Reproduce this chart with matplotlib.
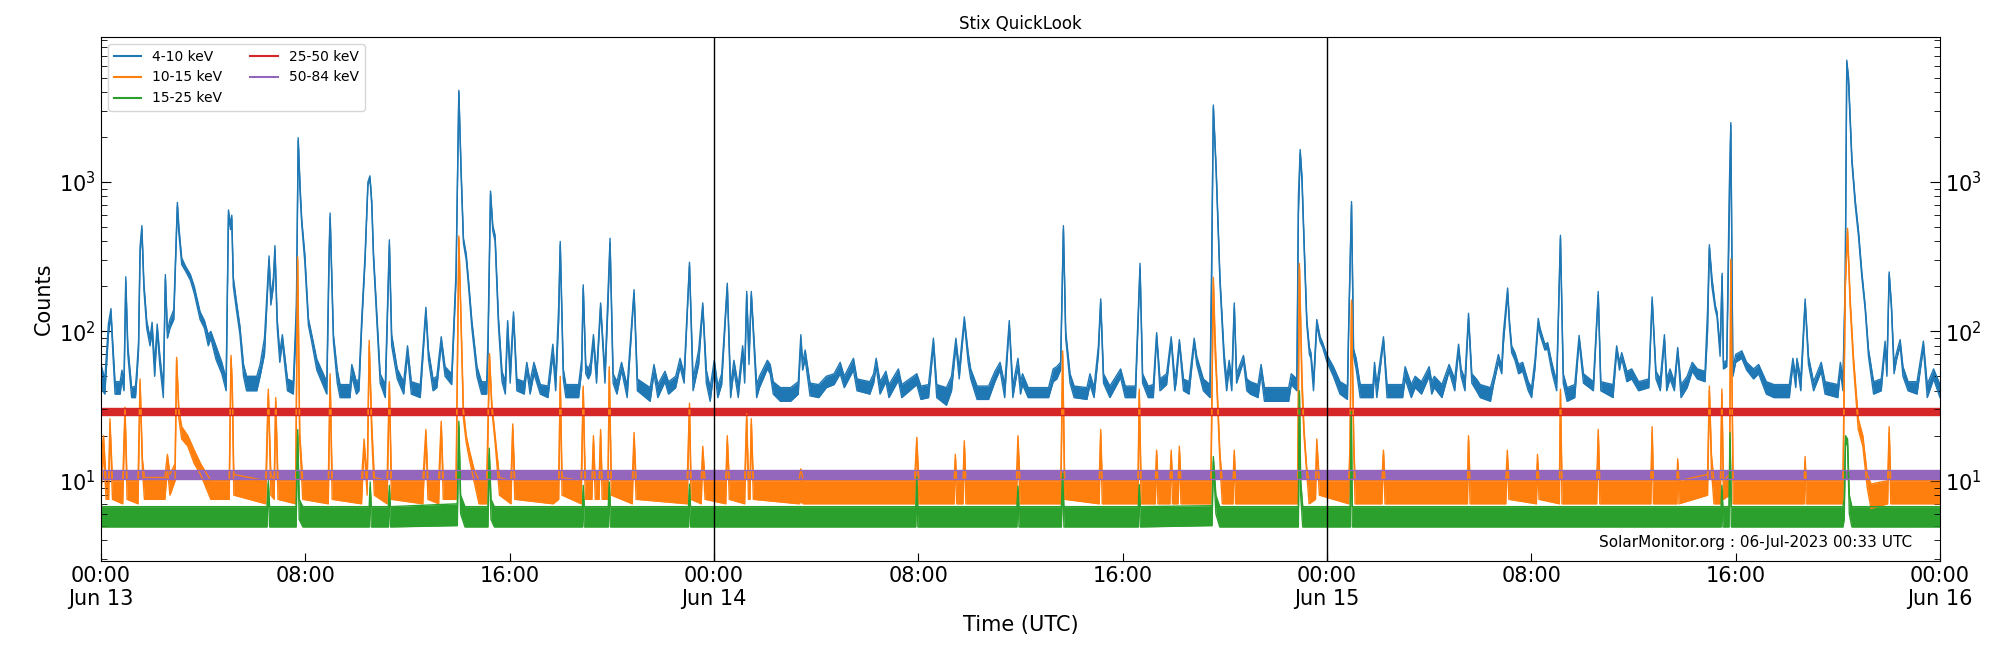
import numpy as np
import matplotlib
matplotlib.use("Agg")
import matplotlib.pyplot as plt
import matplotlib.dates as mdates
from matplotlib.lines import Line2D
from matplotlib.ticker import FuncFormatter

# ---------------- data (hours since 2023-06-13 00:00 UTC, low, high counts) ----------------
start_time = "2023-06-13T00:00"
x_range_hours = [0, 72]
day_lines_hours = [24, 48]
series_labels = ["4-10 keV", "10-15 keV", "15-25 keV", "25-50 keV", "50-84 keV"]
series_colors = ["#1f77b4", "#ff7f0e", "#2ca02c", "#d62728", "#9467bd"]

counts_4_10 = [
    (0.00, 42, 60), (0.15, 38, 48), (0.29, 95, 112), (0.39, 130, 142), (0.45, 80, 90),
    (0.55, 38, 46), (0.75, 38, 46), (0.82, 48, 55), (0.90, 40, 46), (0.97, 215, 232),
    (1.05, 70, 80), (1.20, 36, 42), (1.35, 36, 43), (1.40, 48, 55), (1.47, 75, 85),
    (1.53, 330, 370), (1.60, 480, 510), (1.68, 190, 210), (1.79, 105, 118), (1.92, 80, 90),
    (2.00, 100, 115), (2.10, 50, 60), (2.20, 100, 112), (2.30, 60, 70), (2.44, 36, 42),
    (2.52, 225, 240), (2.60, 90, 100), (2.70, 105, 120), (2.85, 120, 140), (2.99, 690, 730),
    (3.05, 450, 500), (3.16, 280, 310), (3.30, 255, 275), (3.50, 220, 240), (3.65, 180, 200),
    (3.88, 120, 135), (4.05, 105, 118), (4.20, 80, 95), (4.30, 90, 100), (4.50, 65, 80),
    (4.73, 52, 62), (4.90, 40, 48), (4.99, 600, 650), (5.07, 480, 520), (5.12, 560, 600),
    (5.18, 200, 230), (5.30, 140, 160), (5.44, 95, 108), (5.58, 50, 60), (5.70, 40, 50),
    (6.10, 40, 50), (6.23, 50, 60), (6.40, 70, 90), (6.58, 300, 320), (6.65, 150, 170),
    (6.75, 200, 230), (6.81, 350, 375), (6.90, 105, 120), (7.00, 62, 72), (7.10, 85, 95),
    (7.30, 40, 48), (7.53, 38, 46), (7.65, 120, 150), (7.72, 1900, 1980), (7.80, 800, 900),
    (7.86, 520, 560), (7.98, 290, 330), (8.12, 110, 122), (8.25, 85, 95), (8.45, 55, 65),
    (8.84, 38, 46), (8.93, 300, 350), (8.97, 580, 620), (9.10, 85, 95), (9.25, 45, 55),
    (9.36, 36, 44), (9.75, 36, 44), (9.82, 50, 60), (10.00, 38, 46), (10.10, 40, 48),
    (10.21, 110, 125), (10.34, 300, 330), (10.45, 950, 1000), (10.53, 1050, 1100), (10.60, 700, 750),
    (10.67, 300, 330), (10.80, 115, 130), (10.93, 45, 52), (11.13, 36, 44), (11.29, 380, 410),
    (11.38, 80, 95), (11.60, 48, 56), (11.85, 38, 46), (12.00, 70, 80), (12.15, 38, 46),
    (12.50, 36, 44), (12.72, 135, 145), (12.82, 65, 75), (13.00, 40, 48), (13.15, 42, 50),
    (13.32, 82, 92), (13.47, 50, 58), (13.73, 44, 52), (13.90, 220, 250), (14.01, 4000, 4110),
    (14.10, 1100, 1200), (14.19, 390, 420), (14.30, 300, 330), (14.40, 190, 210), (14.52, 105, 118),
    (14.72, 50, 58), (14.90, 38, 46), (15.10, 38, 46), (15.15, 70, 90), (15.25, 830, 870),
    (15.34, 470, 510), (15.43, 400, 440), (15.56, 110, 125), (15.70, 46, 54), (15.83, 38, 46),
    (15.92, 105, 118), (16.02, 45, 55), (16.15, 125, 135), (16.28, 40, 48), (16.57, 38, 46),
    (16.67, 55, 62), (16.80, 38, 46), (16.95, 52, 62), (17.20, 38, 44), (17.50, 36, 43),
    (17.69, 70, 82), (17.80, 40, 48), (17.92, 120, 150), (17.98, 380, 400), (18.10, 48, 56),
    (18.20, 36, 44), (18.70, 36, 44), (18.82, 55, 65), (18.88, 195, 205), (18.98, 52, 60),
    (19.08, 48, 56), (19.17, 52, 62), (19.28, 85, 95), (19.40, 45, 52), (19.56, 145, 155),
    (19.73, 45, 52), (19.85, 150, 180), (19.93, 390, 420), (20.05, 45, 52), (20.20, 38, 46),
    (20.38, 55, 62), (20.60, 36, 43), (20.87, 180, 190), (21.00, 40, 48), (21.50, 34, 42),
    (21.65, 52, 60), (21.80, 36, 44), (22.08, 46, 54), (22.22, 38, 46), (22.50, 42, 50),
    (22.67, 58, 66), (22.83, 45, 52), (23.04, 275, 290), (23.18, 40, 48), (23.40, 60, 75),
    (23.56, 145, 155), (23.70, 45, 55), (23.85, 34, 42), (24.01, 56, 64), (24.15, 36, 43),
    (24.30, 44, 52), (24.52, 200, 210), (24.65, 36, 43), (24.78, 55, 64), (24.95, 36, 43),
    (25.12, 72, 80), (25.20, 45, 55), (25.28, 175, 185), (25.37, 60, 70), (25.46, 175, 185),
    (25.67, 36, 44), (25.78, 42, 50), (26.09, 56, 64), (26.20, 52, 60), (26.32, 38, 46),
    (26.60, 34, 42), (27.00, 34, 42), (27.30, 38, 46), (27.40, 85, 95), (27.47, 55, 62),
    (27.57, 65, 75), (27.76, 37, 45), (28.10, 36, 44), (28.40, 42, 50), (28.70, 44, 52),
    (28.94, 52, 62), (29.10, 42, 50), (29.46, 55, 66), (29.60, 40, 48), (30.10, 38, 46),
    (30.25, 45, 52), (30.35, 58, 66), (30.50, 38, 46), (30.73, 46, 54), (30.85, 36, 44),
    (31.22, 47, 56), (31.35, 36, 44), (31.94, 44, 52), (32.10, 35, 43), (32.40, 36, 44),
    (32.59, 80, 90), (32.72, 36, 44), (33.10, 32, 42), (33.30, 40, 50), (33.47, 80, 90),
    (33.60, 48, 56), (33.80, 115, 125), (33.95, 62, 72), (34.05, 48, 56), (34.30, 35, 43),
    (34.75, 35, 43), (35.00, 46, 54), (35.20, 55, 62), (35.38, 36, 44), (35.56, 110, 118),
    (35.70, 36, 43), (35.90, 58, 66), (36.00, 38, 46), (36.08, 44, 52), (36.30, 36, 42),
    (37.10, 36, 42), (37.28, 46, 56), (37.42, 48, 58), (37.57, 55, 62), (37.68, 480, 510),
    (37.77, 90, 100), (37.94, 45, 52), (38.10, 36, 43), (38.60, 35, 42), (38.72, 44, 52),
    (38.88, 36, 42), (39.05, 70, 80), (39.14, 155, 165), (39.25, 45, 52), (39.50, 36, 43),
    (39.92, 49, 56), (40.10, 36, 43), (40.50, 36, 43), (40.68, 265, 285), (40.78, 45, 52),
    (41.00, 36, 43), (41.20, 36, 44), (41.33, 92, 98), (41.46, 40, 48), (41.72, 44, 52),
    (41.90, 86, 92), (42.04, 40, 48), (42.10, 46, 54), (42.22, 82, 88), (42.38, 40, 48),
    (42.60, 38, 46), (42.80, 83, 90), (42.90, 60, 68), (43.16, 40, 48), (43.42, 36, 44),
    (43.48, 200, 260), (43.55, 3150, 3280), (43.66, 1150, 1250), (43.81, 210, 230), (43.97, 62, 72),
    (44.07, 40, 48), (44.17, 56, 64), (44.27, 40, 48), (44.37, 145, 155), (44.46, 45, 52),
    (44.73, 63, 69), (44.86, 40, 48), (45.00, 38, 46), (45.30, 36, 44), (45.42, 52, 60),
    (45.55, 34, 42), (46.50, 34, 42), (46.60, 44, 52), (46.82, 40, 48), (46.88, 600, 800),
    (46.95, 1550, 1650), (47.02, 1000, 1100), (47.10, 380, 420), (47.21, 110, 120), (47.31, 70, 78),
    (47.37, 66, 72), (47.47, 40, 46), (47.60, 110, 120), (47.73, 85, 92), (47.83, 78, 84),
    (47.99, 63, 70), (48.25, 50, 58), (48.51, 38, 46), (48.80, 35, 43), (48.85, 105, 115),
    (48.96, 700, 740), (49.04, 68, 76), (49.14, 56, 66), (49.30, 36, 44), (49.80, 36, 44),
    (49.86, 55, 62), (49.95, 36, 44), (50.21, 86, 92), (50.35, 36, 44), (50.96, 36, 44),
    (51.06, 48, 58), (51.30, 36, 44), (51.45, 42, 50), (51.70, 38, 46), (52.00, 50, 58),
    (52.10, 38, 46), (52.20, 42, 50), (52.50, 36, 44), (52.78, 54, 60), (53.00, 40, 48),
    (53.15, 74, 82), (53.25, 50, 56), (53.40, 40, 48), (53.54, 122, 132), (53.67, 45, 52),
    (53.85, 40, 48), (54.00, 36, 44), (54.40, 34, 42), (54.52, 44, 50), (54.71, 62, 70),
    (54.84, 52, 58), (54.90, 80, 95), (55.07, 180, 195), (55.14, 110, 120), (55.23, 72, 80),
    (55.36, 64, 72), (55.50, 52, 60), (55.66, 54, 62), (55.88, 40, 46), (56.01, 36, 42),
    (56.14, 56, 64), (56.27, 112, 122), (56.34, 95, 105), (56.53, 75, 82), (56.64, 76, 84),
    (56.80, 54, 62), (56.99, 40, 46), (57.14, 420, 440), (57.25, 45, 52), (57.40, 34, 42),
    (57.70, 36, 44), (57.87, 86, 94), (58.04, 45, 52), (58.43, 40, 46), (58.62, 175, 185),
    (58.72, 40, 46), (59.20, 36, 44), (59.34, 74, 80), (59.45, 55, 62), (59.54, 66, 72),
    (59.74, 46, 54), (59.93, 48, 56), (60.20, 40, 46), (60.60, 42, 48), (60.73, 160, 170),
    (60.88, 48, 54), (61.05, 40, 48), (61.21, 88, 95), (61.30, 40, 48), (61.43, 48, 56),
    (61.60, 40, 46), (61.73, 73, 78), (61.86, 36, 44), (62.10, 42, 50), (62.30, 54, 62),
    (62.50, 48, 56), (62.80, 46, 54), (62.90, 100, 140), (62.97, 360, 380), (63.07, 200, 230),
    (63.20, 140, 150), (63.27, 125, 135), (63.39, 68, 76), (63.47, 235, 245), (63.52, 56, 62),
    (63.65, 58, 64), (63.75, 600, 900), (63.81, 2400, 2500), (63.89, 50, 56), (64.00, 62, 70),
    (64.24, 66, 74), (64.43, 55, 62), (64.70, 48, 56), (64.90, 52, 60), (65.20, 38, 46),
    (65.50, 36, 44), (66.10, 36, 44), (66.24, 60, 66), (66.35, 42, 50), (66.40, 60, 66),
    (66.55, 40, 48), (66.72, 155, 165), (66.85, 60, 68), (67.05, 40, 46), (67.35, 54, 62),
    (67.50, 38, 46), (68.00, 36, 44), (68.10, 54, 62), (68.20, 40, 48), (68.29, 200, 220),
    (68.35, 6300, 6550), (68.42, 4500, 5000), (68.55, 1350, 1450), (68.68, 700, 760), (68.81, 430, 470),
    (68.94, 230, 250), (69.07, 140, 150), (69.20, 68, 76), (69.40, 38, 46), (69.70, 40, 48),
    (69.85, 80, 86), (69.92, 50, 58), (70.01, 240, 250), (70.10, 140, 150), (70.20, 52, 60),
    (70.30, 65, 72), (70.44, 80, 88), (70.55, 50, 58), (70.75, 40, 46), (71.10, 38, 46),
    (71.35, 78, 86), (71.50, 36, 44), (71.75, 48, 56), (72.00, 36, 44),
]

counts_10_15 = [
    (0.00, 8, 14), (0.10, 16, 20), (0.20, 7.5, 10), (0.30, 7.5, 10), (0.35, 24, 26),
    (0.45, 7.5, 10), (0.85, 7, 10), (0.94, 29, 31), (1.02, 7.5, 10), (1.45, 7, 10),
    (1.53, 45, 48), (1.62, 12, 14), (1.70, 7.5, 10.5), (2.50, 7.5, 10.5), (2.60, 12, 15),
    (2.70, 8, 11), (2.90, 10, 13), (2.96, 64, 67), (3.05, 26, 30), (3.16, 19, 23),
    (3.40, 17, 20), (3.65, 13, 16), (3.90, 11, 13), (4.30, 7.5, 10), (5.02, 7.5, 10),
    (5.09, 66, 69), (5.14, 40, 44), (5.20, 8, 11), (6.45, 7, 10), (6.55, 38, 41),
    (6.65, 8, 11), (6.78, 7.5, 10), (6.84, 34, 36), (6.93, 7.5, 10), (7.62, 7, 10),
    (7.70, 300, 315), (7.78, 18, 21), (7.90, 7.5, 10), (8.90, 7, 10), (8.97, 48, 52),
    (9.05, 7.5, 10), (10.20, 7, 10), (10.30, 17, 19), (10.42, 8, 10), (10.50, 80, 87),
    (10.60, 20, 24), (10.70, 8, 10.5), (11.20, 7, 10), (11.29, 44, 46), (11.37, 7.5, 10),
    (12.60, 7, 10), (12.72, 20, 22), (12.80, 7.5, 10), (13.22, 7, 10), (13.32, 23, 25),
    (13.40, 7.5, 10), (13.90, 7.5, 10), (14.01, 420, 435), (14.19, 26, 30), (14.30, 18, 20),
    (14.42, 14, 16), (14.60, 10, 12), (14.80, 7, 10), (15.10, 7, 10), (15.21, 68, 71),
    (15.30, 30, 33), (15.43, 18, 20), (15.60, 8, 10.5), (16.05, 7, 10), (16.12, 22, 24),
    (16.20, 7.5, 10), (17.70, 7, 10), (17.92, 7.5, 10), (17.98, 45, 50), (18.05, 8, 10.5),
    (18.80, 7, 10), (18.88, 41, 43), (18.96, 7.5, 10), (19.22, 7.5, 10), (19.28, 18, 20),
    (19.35, 7.5, 10), (19.50, 7.5, 10), (19.56, 20, 22), (19.62, 7.5, 10), (19.85, 7.5, 10),
    (19.90, 55, 58), (19.98, 8, 10), (20.80, 7, 10), (20.87, 19, 21), (20.95, 7.5, 10),
    (22.95, 7, 10), (23.04, 31, 33), (23.10, 7.5, 10), (23.50, 7, 10), (23.56, 15, 17),
    (23.65, 7.5, 10), (24.46, 7, 10), (24.52, 18, 20), (24.60, 7.5, 10), (25.20, 7, 10),
    (25.28, 26, 28), (25.35, 7.5, 10), (25.41, 7.5, 10), (25.46, 24, 26), (25.54, 7.5, 10),
    (27.33, 7, 10), (27.40, 7.2, 12), (27.50, 7, 10), (31.85, 7, 10), (31.94, 18, 19.5),
    (32.02, 7, 10), (33.40, 7, 10), (33.45, 14, 15), (33.50, 7, 10), (33.75, 7, 10),
    (33.80, 17, 18.5), (33.86, 7, 10), (35.84, 7, 10), (35.90, 18, 20), (35.98, 7, 10),
    (37.58, 7, 10), (37.65, 70, 74), (37.73, 7.5, 10), (39.08, 7, 10), (39.14, 20, 22),
    (39.20, 7, 10), (40.60, 7, 10), (40.65, 39, 41), (40.72, 7, 10), (41.28, 7, 10),
    (41.33, 15, 16), (41.38, 7, 10), (41.85, 7, 10), (41.90, 15, 16), (41.95, 7, 10),
    (42.17, 7, 10), (42.22, 15.5, 17), (42.28, 7, 10), (43.45, 7, 10), (43.55, 215, 230),
    (43.62, 70, 90), (43.68, 45, 50), (43.81, 13, 15), (43.90, 7, 10), (44.32, 7, 10),
    (44.37, 15, 16), (44.42, 7, 10), (46.85, 7, 10), (46.92, 270, 285), (47.02, 40, 50),
    (47.10, 20, 22), (47.21, 11, 12), (47.30, 7, 10), (47.55, 7.5, 10), (47.60, 17, 19),
    (47.70, 8, 10), (48.85, 7, 10), (48.90, 16, 17), (48.96, 155, 162), (49.05, 15, 18),
    (49.10, 7, 10), (50.15, 7, 10), (50.21, 15, 16), (50.27, 7, 10), (53.50, 7, 10),
    (53.54, 18.5, 20), (53.60, 7, 10), (55.00, 7, 10), (55.06, 14, 16), (55.12, 7.5, 10),
    (56.20, 7, 10), (56.24, 13, 15), (56.30, 7.5, 10), (57.10, 7, 10), (57.14, 39, 41),
    (57.20, 7, 10), (58.56, 7, 10), (58.62, 20, 22), (58.68, 7, 10), (60.68, 7, 10),
    (60.73, 21, 23), (60.78, 7, 10), (61.70, 7, 10), (61.73, 13, 14), (61.78, 7, 10),
    (62.90, 8, 11), (62.97, 40, 43), (63.05, 12, 15), (63.15, 7, 10), (63.40, 7, 10),
    (63.46, 38, 41), (63.52, 7.5, 10), (63.76, 8, 11), (63.81, 290, 305), (63.90, 7, 10),
    (66.68, 7, 10), (66.72, 13.5, 14.5), (66.76, 7, 10), (68.20, 7, 10), (68.29, 190, 210),
    (68.38, 460, 490), (68.48, 150, 170), (68.61, 60, 68), (68.80, 22, 26), (68.98, 17, 20),
    (69.15, 9, 11), (69.30, 6.5, 9.5), (69.95, 7, 10), (70.01, 21, 23), (70.07, 7, 10),
    (72.00, 7, 10),
]

counts_15_25 = [
    (0.00, 4.9, 6.7), (6.50, 4.9, 6.7), (6.55, 9.5, 10), (6.60, 4.9, 6.7), (7.64, 4.9, 6.7),
    (7.70, 20, 22), (7.76, 5.5, 7.5), (7.90, 4.9, 6.7), (10.50, 4.9, 6.7), (10.54, 9, 9.8),
    (10.58, 4.9, 6.7), (11.25, 4.9, 6.7), (11.29, 8.5, 9.3), (11.33, 4.9, 6.7), (13.95, 5, 7),
    (14.01, 23, 25), (14.08, 6, 8), (14.25, 4.9, 6.7), (15.15, 4.9, 6.7), (15.20, 15, 16.5),
    (15.27, 5.5, 7.5), (15.40, 4.9, 6.7), (18.85, 4.9, 6.7), (18.88, 8.5, 9.3), (18.92, 4.9, 6.7),
    (19.86, 4.9, 6.7), (19.90, 9, 9.8), (19.94, 4.9, 6.7), (23.00, 4.9, 6.7), (23.04, 8.8, 9.5),
    (23.08, 4.9, 6.7), (31.90, 4.9, 6.7), (31.94, 10, 10.6), (31.98, 4.9, 6.7), (35.86, 4.9, 6.7),
    (35.90, 8.5, 9.2), (35.94, 4.9, 6.7), (37.60, 4.9, 6.7), (37.65, 10.5, 11.2), (37.70, 4.9, 6.7),
    (40.61, 4.9, 6.7), (40.65, 8.8, 9.4), (40.69, 4.9, 6.7), (43.50, 5, 6.8), (43.55, 13.5, 14.5),
    (43.65, 6, 8), (43.80, 4.9, 6.7), (46.88, 4.9, 6.7), (46.92, 38, 40), (46.97, 8, 10),
    (47.05, 4.9, 6.7), (48.91, 4.9, 6.7), (48.95, 27, 29), (48.99, 4.9, 6.7), (63.43, 4.9, 6.7),
    (63.46, 8.6, 9.3), (63.50, 4.9, 6.7), (63.74, 4.9, 6.7), (63.78, 19, 21), (63.83, 4.9, 6.7),
    (68.20, 4.9, 6.7), (68.25, 5.5, 7.5), (68.30, 18.5, 20), (68.38, 17, 19), (68.45, 6, 8),
    (68.55, 4.9, 6.7), (72.00, 4.9, 6.7),
]

counts_25_50 = [(0.0, 27.4, 30.5), (24.0, 27.4, 30.5), (48.0, 27.4, 30.5), (72.0, 27.4, 30.5)]
counts_50_84 = [(0.0, 10.2, 11.8), (24.0, 10.2, 11.8), (48.0, 10.2, 11.8), (72.0, 10.2, 11.8)]

y_limits = (2.9, 9350)
footer_text = "SolarMonitor.org : 06-Jul-2023 00:33 UTC"

# ---------------- plotting ----------------
t0 = np.datetime64(start_time)


def to_time(hours):
    secs = np.round(np.asarray(hours, dtype=float) * 3600).astype("int64")
    return (t0 + secs.astype("timedelta64[s]")).astype("datetime64[ms]").astype(object)


fig = plt.figure(figsize=(20, 6.5), dpi=100)
ax = fig.add_axes([0.0505, 0.137, 0.9195, 0.806])

all_series = [counts_4_10, counts_10_15, counts_15_25, counts_25_50, counts_50_84]
for data, color in zip(all_series, series_colors):
    hrs = [d[0] for d in data]
    lo = [d[1] for d in data]
    hi = [d[2] for d in data]
    tt = mdates.date2num(to_time(hrs))
    ax.fill_between(tt, lo, hi, color=color, lw=0)
    ax.plot(tt, lo, color=color, lw=1.0)
    ax.plot(tt, hi, color=color, lw=1.0)

for h in day_lines_hours:
    ax.axvline(mdates.date2num(to_time([h])[0]), color="black", lw=1.0)

ax.set_yscale("log")
ax.set_ylim(*y_limits)
xl = mdates.date2num(to_time(x_range_hours))
ax.set_xlim(xl[0], xl[1])

ax.xaxis.set_major_locator(mdates.HourLocator(byhour=[0, 8, 16]))


def fmt(x, pos):
    d = mdates.num2date(x)
    if d.hour == 0 and d.minute == 0:
        return d.strftime("%H:%M\n%b %d")
    return d.strftime("%H:%M")


ax.xaxis.set_major_formatter(FuncFormatter(fmt))

ax.tick_params(axis="both", which="both", direction="in", labelsize=15)
ax.tick_params(axis="y", which="both", right=True, labelright=True)
ax.tick_params(axis="y", which="major", length=7)
ax.tick_params(axis="y", which="minor", length=4.5)
ax.tick_params(axis="x", which="major", length=5.5, top=False)

ax.set_title("Stix QuickLook", fontsize=12)
ax.set_xlabel("Time (UTC)", fontsize=15)
ax.set_ylabel("Counts", fontsize=15)

handles = [Line2D([], [], color=c, lw=1.5) for c in series_colors]
ax.legend(handles, series_labels, loc="upper left", ncol=2, fontsize=10)

ax.text(0.985, 0.02, footer_text, transform=ax.transAxes, ha="right", va="bottom", fontsize=11)

fig.savefig("out.png", dpi=100)
